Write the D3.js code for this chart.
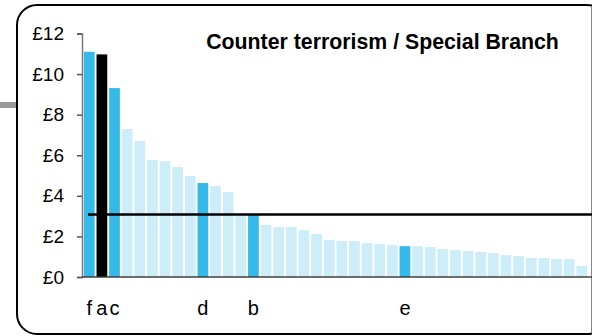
<!DOCTYPE html>
<html><head><meta charset="utf-8">
<script src="https://cdn.jsdelivr.net/npm/d3@7"></script>
<style>body{margin:0;background:#fff}svg{display:block}</style>
</head><body>
<svg id="c" width="592" height="336"></svg>
<script>
const values = [11.1, 10.97, 9.31, 7.29, 6.7, 5.76, 5.71, 5.42, 4.98, 4.63,
  4.48, 4.19, 3.07, 3.05, 2.56, 2.46, 2.46, 2.32, 2.12, 1.82,
  1.77, 1.77, 1.67, 1.62, 1.57, 1.52, 1.52, 1.48, 1.38, 1.33,
  1.28, 1.23, 1.18, 1.08, 1.03, 0.94, 0.94, 0.89, 0.89, 0.54];
const highlightLabels = ["f", "a", "c", "", "", "", "", "", "", "d",
  "", "", "", "b", "", "", "", "", "", "",
  "", "", "", "", "", "e", "", "", "", "",
  "", "", "", "", "", "", "", "", "", ""];
const barKinds = ["hi", "main", "hi", "", "", "", "", "", "", "hi",
  "", "", "", "hi", "", "", "", "", "", "",
  "", "", "", "", "", "hi", "", "", "", "",
  "", "", "", "", "", "", "", "", "", ""];
const averageValue = 3.08;
const yTicks = [0, 2, 4, 6, 8, 10, 12];
const title = "Counter terrorism / Special Branch";

const svg = d3.select("#c");
const colors = {hi: "#35b9e9", main: "#000000", "": "#cdedf9"};
const FONT = "Liberation Sans, Arial, sans-serif";

// frame
svg.append("rect").attr("x", 0).attr("y", 102).attr("width", 16).attr("height", 6).attr("fill", "#9a9a9a");
svg.append("rect").attr("x", 17).attr("y", 5).attr("width", 590).attr("height", 329)
  .attr("rx", 20).attr("ry", 20).attr("fill", "#fff").attr("stroke", "#000").attr("stroke-width", 2);
svg.append("line").attr("x1", 591.5).attr("x2", 591.5).attr("y1", 6).attr("y2", 333)
  .attr("stroke", "#888").attr("stroke-width", 1);

const idx = values.map((d, i) => i);
const x = d3.scaleBand().domain(idx).range([82, 589]).paddingInner(0.15).paddingOuter(0.15);
const y = d3.scaleLinear().domain([0, 12]).range([277, 33.5]);

svg.append("g").selectAll("rect").data(idx).join("rect")
  .attr("x", i => x(i)).attr("width", x.bandwidth())
  .attr("y", i => y(values[i])).attr("height", i => y(0) - y(values[i]))
  .attr("fill", i => colors[barKinds[i]]);

// y axis
const yAxis = d3.axisLeft(y).tickValues(yTicks).tickFormat(d => "£" + d).tickSize(5).tickPadding(13);
const gy = svg.append("g").attr("transform", "translate(82,0)").call(yAxis);
gy.select(".domain").attr("stroke", "#777").attr("stroke-width", 1.5);
gy.selectAll(".tick line").attr("stroke", "#555").attr("stroke-width", 1.5);
gy.selectAll(".tick text").attr("font-family", FONT).attr("font-size", 19).attr("fill", "#000");

// baseline
svg.append("line").attr("x1", 82).attr("x2", 592).attr("y1", y(0)).attr("y2", y(0))
  .attr("stroke", "#333").attr("stroke-opacity", 0.7).attr("stroke-width", 2);

// average line
svg.append("line").attr("x1", 88).attr("x2", 592).attr("y1", y(averageValue)).attr("y2", y(averageValue))
  .attr("stroke", "#000").attr("stroke-width", 2.5);

// labels
svg.append("g").selectAll("text").data(idx.filter(i => highlightLabels[i])).join("text")
  .attr("x", i => x(i) + x.bandwidth() / 2).attr("y", 315)
  .attr("text-anchor", "middle").attr("font-family", FONT)
  .attr("font-size", 20).text(i => highlightLabels[i]);

svg.append("text").attr("x", 382.5).attr("y", 49).attr("text-anchor", "middle")
  .attr("font-family", FONT).attr("font-weight", "bold")
  .attr("font-size", 21.3).text(title);
</script>
</body></html>
